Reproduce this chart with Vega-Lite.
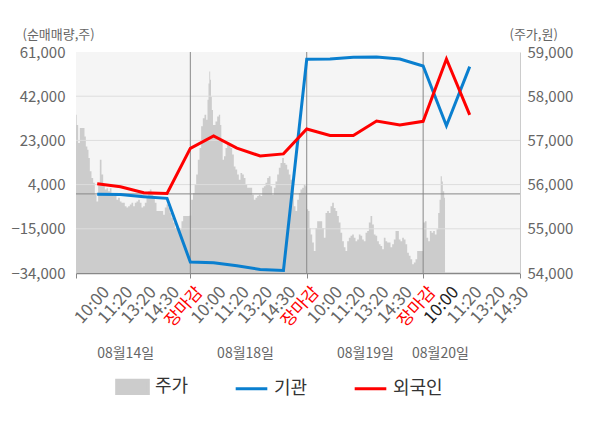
{
  "$schema": "https://vega.github.io/schema/vega-lite/v6.json",
  "width": 444,
  "height": 221,
  "autosize": {"type": "none"},
  "padding": {"left": 76, "top": 52, "right": 80, "bottom": 155},
  "background": "white",
  "config": {
    "font": "Noto Sans CJK KR",
    "view": {"fill": "#f5f5f5", "stroke": null},
    "axis": {"labelFont": "Noto Sans CJK KR", "titleFont": "Noto Sans CJK KR"},
    "legend": {"labelFont": "Noto Sans CJK KR"}
  },
  "datasets": {
    "price": [
      {"t": -0.91, "price": 57580}, {"t": -0.853, "price": 57350}, {"t": -0.782, "price": 56940}, {"t": -0.71, "price": 57280},
      {"t": -0.639, "price": 57280}, {"t": -0.567, "price": 57280}, {"t": -0.524, "price": 57090}, {"t": -0.453, "price": 56860},
      {"t": -0.395, "price": 56790}, {"t": -0.352, "price": 56600}, {"t": -0.281, "price": 56300}, {"t": -0.209, "price": 56150},
      {"t": -0.137, "price": 56040}, {"t": -0.066, "price": 55770}, {"t": 0.006, "price": 55620}, {"t": 0.077, "price": 56040},
      {"t": 0.149, "price": 56560}, {"t": 0.221, "price": 56230}, {"t": 0.292, "price": 56000}, {"t": 0.364, "price": 55890},
      {"t": 0.435, "price": 55920}, {"t": 0.507, "price": 55850}, {"t": 0.578, "price": 55920}, {"t": 0.65, "price": 55810},
      {"t": 0.722, "price": 55740}, {"t": 0.793, "price": 55770}, {"t": 0.865, "price": 55660}, {"t": 0.936, "price": 55700},
      {"t": 1.008, "price": 55620}, {"t": 1.08, "price": 55590}, {"t": 1.151, "price": 55590}, {"t": 1.223, "price": 55510},
      {"t": 1.294, "price": 55480}, {"t": 1.366, "price": 55510}, {"t": 1.438, "price": 55550}, {"t": 1.509, "price": 55590},
      {"t": 1.581, "price": 55510}, {"t": 1.652, "price": 55590}, {"t": 1.724, "price": 55620}, {"t": 1.796, "price": 55660},
      {"t": 1.867, "price": 55590}, {"t": 1.939, "price": 55480}, {"t": 2.01, "price": 55510}, {"t": 2.082, "price": 55590},
      {"t": 2.154, "price": 55700}, {"t": 2.225, "price": 55850}, {"t": 2.297, "price": 55890}, {"t": 2.368, "price": 55770},
      {"t": 2.44, "price": 55700}, {"t": 2.512, "price": 55590}, {"t": 2.583, "price": 55400}, {"t": 2.655, "price": 55400},
      {"t": 2.726, "price": 55400}, {"t": 2.798, "price": 55400}, {"t": 2.869, "price": 55320}, {"t": 2.941, "price": 55480},
      {"t": 3.013, "price": 55550}, {"t": 3.084, "price": 55480}, {"t": 3.156, "price": 55360}, {"t": 3.227, "price": 55250},
      {"t": 3.299, "price": 55140}, {"t": 3.371, "price": 55020}, {"t": 3.442, "price": 55100}, {"t": 3.514, "price": 55020},
      {"t": 3.585, "price": 54990}, {"t": 3.657, "price": 55170}, {"t": 3.728, "price": 55290}, {"t": 3.8, "price": 55290},
      {"t": 3.872, "price": 55290}, {"t": 3.943, "price": 55290}, {"t": 4.0, "price": 55300},
      {"t": 4.072, "price": 55660}, {"t": 4.158, "price": 55810}, {"t": 4.215, "price": 56000}, {"t": 4.287, "price": 56230},
      {"t": 4.358, "price": 56560}, {"t": 4.43, "price": 56830}, {"t": 4.501, "price": 57320}, {"t": 4.573, "price": 57500},
      {"t": 4.645, "price": 57580}, {"t": 4.716, "price": 57470}, {"t": 4.759, "price": 57920}, {"t": 4.802, "price": 58290},
      {"t": 4.831, "price": 58560}, {"t": 4.874, "price": 58370}, {"t": 4.902, "price": 57990}, {"t": 4.945, "price": 57690},
      {"t": 5.003, "price": 57350}, {"t": 5.045, "price": 57350}, {"t": 5.117, "price": 57430}, {"t": 5.189, "price": 57540},
      {"t": 5.26, "price": 57580}, {"t": 5.303, "price": 57350}, {"t": 5.36, "price": 57010}, {"t": 5.418, "price": 56560},
      {"t": 5.475, "price": 56640}, {"t": 5.547, "price": 56830}, {"t": 5.618, "price": 56940}, {"t": 5.69, "price": 56900},
      {"t": 5.761, "price": 56830}, {"t": 5.833, "price": 56680}, {"t": 5.905, "price": 56410}, {"t": 5.976, "price": 56340},
      {"t": 6.048, "price": 56230}, {"t": 6.119, "price": 56110}, {"t": 6.191, "price": 56260}, {"t": 6.263, "price": 56230},
      {"t": 6.334, "price": 56150}, {"t": 6.406, "price": 56000}, {"t": 6.477, "price": 55930}, {"t": 6.549, "price": 55930},
      {"t": 6.62, "price": 55930}, {"t": 6.692, "price": 55770}, {"t": 6.764, "price": 55660}, {"t": 6.835, "price": 55700},
      {"t": 6.907, "price": 55740}, {"t": 6.978, "price": 55770}, {"t": 7.05, "price": 55740}, {"t": 7.122, "price": 55930},
      {"t": 7.193, "price": 55960}, {"t": 7.265, "price": 56040}, {"t": 7.336, "price": 56150}, {"t": 7.408, "price": 56190},
      {"t": 7.48, "price": 55960}, {"t": 7.551, "price": 55770}, {"t": 7.623, "price": 55930}, {"t": 7.694, "price": 56070},
      {"t": 7.766, "price": 56230}, {"t": 7.838, "price": 56380}, {"t": 7.909, "price": 56490}, {"t": 7.981, "price": 56600},
      {"t": 8.052, "price": 56490}, {"t": 8.124, "price": 56450}, {"t": 8.196, "price": 56340}, {"t": 8.267, "price": 56230},
      {"t": 8.339, "price": 56110}, {"t": 8.41, "price": 55900}, {"t": 8.482, "price": 55510}, {"t": 8.553, "price": 55400},
      {"t": 8.625, "price": 55660}, {"t": 8.697, "price": 55810}, {"t": 8.768, "price": 55890}, {"t": 8.84, "price": 55930},
      {"t": 8.911, "price": 56000}, {"t": 8.983, "price": 55960},
      {"t": 9.026, "price": 55440}, {"t": 9.098, "price": 55400}, {"t": 9.141, "price": 55020}, {"t": 9.198, "price": 54870},
      {"t": 9.27, "price": 54690}, {"t": 9.341, "price": 54500}, {"t": 9.413, "price": 55020}, {"t": 9.484, "price": 55170},
      {"t": 9.556, "price": 55170}, {"t": 9.628, "price": 55170}, {"t": 9.699, "price": 55020}, {"t": 9.771, "price": 54800},
      {"t": 9.842, "price": 55360}, {"t": 9.914, "price": 55400}, {"t": 9.986, "price": 55360}, {"t": 10.057, "price": 55510},
      {"t": 10.129, "price": 55590}, {"t": 10.2, "price": 55470}, {"t": 10.272, "price": 55400}, {"t": 10.343, "price": 55290},
      {"t": 10.415, "price": 55140}, {"t": 10.487, "price": 54910}, {"t": 10.558, "price": 54720}, {"t": 10.63, "price": 54580},
      {"t": 10.701, "price": 54500}, {"t": 10.773, "price": 54720}, {"t": 10.845, "price": 54800}, {"t": 10.916, "price": 54840},
      {"t": 10.988, "price": 54870}, {"t": 11.059, "price": 54800}, {"t": 11.131, "price": 54720}, {"t": 11.203, "price": 54760},
      {"t": 11.274, "price": 54870}, {"t": 11.346, "price": 54840}, {"t": 11.417, "price": 54760}, {"t": 11.489, "price": 54720},
      {"t": 11.561, "price": 54910}, {"t": 11.632, "price": 54950}, {"t": 11.704, "price": 55140}, {"t": 11.775, "price": 55290},
      {"t": 11.847, "price": 55100}, {"t": 11.919, "price": 54870}, {"t": 11.99, "price": 54840}, {"t": 12.062, "price": 54720},
      {"t": 12.133, "price": 54650}, {"t": 12.205, "price": 54610}, {"t": 12.276, "price": 54540}, {"t": 12.348, "price": 54800},
      {"t": 12.42, "price": 54720}, {"t": 12.491, "price": 54690}, {"t": 12.563, "price": 54690}, {"t": 12.634, "price": 54580},
      {"t": 12.706, "price": 54650}, {"t": 12.778, "price": 54760}, {"t": 12.849, "price": 54950}, {"t": 12.921, "price": 54950},
      {"t": 12.992, "price": 54760}, {"t": 13.064, "price": 54720}, {"t": 13.136, "price": 54800}, {"t": 13.207, "price": 54760},
      {"t": 13.279, "price": 54650}, {"t": 13.35, "price": 54460}, {"t": 13.422, "price": 54390}, {"t": 13.494, "price": 54310},
      {"t": 13.565, "price": 54200}, {"t": 13.637, "price": 54240}, {"t": 13.708, "price": 54310}, {"t": 13.78, "price": 54500},
      {"t": 13.852, "price": 54500}, {"t": 13.923, "price": 54500}, {"t": 13.966, "price": 54500},
      {"t": 14.038, "price": 55140}, {"t": 14.109, "price": 55170}, {"t": 14.181, "price": 54800}, {"t": 14.253, "price": 54720},
      {"t": 14.324, "price": 54950}, {"t": 14.396, "price": 54910}, {"t": 14.467, "price": 54950}, {"t": 14.539, "price": 54870},
      {"t": 14.61, "price": 54990}, {"t": 14.682, "price": 55360}, {"t": 14.725, "price": 55660}, {"t": 14.782, "price": 56190},
      {"t": 14.825, "price": 56070}, {"t": 14.868, "price": 55850}, {"t": 14.94, "price": 55700}
    ],
    "flow": [
      {"t": 0, "series": "기관", "value": -200}, {"t": 1, "series": "기관", "value": -300},
      {"t": 2, "series": "기관", "value": -1200}, {"t": 3, "series": "기관", "value": -1900},
      {"t": 4, "series": "기관", "value": -29300}, {"t": 5, "series": "기관", "value": -29600},
      {"t": 6, "series": "기관", "value": -30900}, {"t": 7, "series": "기관", "value": -32500},
      {"t": 8, "series": "기관", "value": -32900}, {"t": 9, "series": "기관", "value": 57900},
      {"t": 10, "series": "기관", "value": 58000}, {"t": 11, "series": "기관", "value": 58700},
      {"t": 12, "series": "기관", "value": 58900}, {"t": 13, "series": "기관", "value": 58000},
      {"t": 14, "series": "기관", "value": 55000}, {"t": 15, "series": "기관", "value": 29300},
      {"t": 16, "series": "기관", "value": 54700},
      {"t": 0, "series": "외국인", "value": 4400}, {"t": 1, "series": "외국인", "value": 3100},
      {"t": 2, "series": "외국인", "value": 500}, {"t": 3, "series": "외국인", "value": 200},
      {"t": 4, "series": "외국인", "value": 19600}, {"t": 5, "series": "외국인", "value": 24900},
      {"t": 6, "series": "외국인", "value": 19700}, {"t": 7, "series": "외국인", "value": 16300},
      {"t": 8, "series": "외국인", "value": 17200}, {"t": 9, "series": "외국인", "value": 27900},
      {"t": 10, "series": "외국인", "value": 25100}, {"t": 11, "series": "외국인", "value": 25100},
      {"t": 12, "series": "외국인", "value": 31300}, {"t": 13, "series": "외국인", "value": 29600},
      {"t": 14, "series": "외국인", "value": 31200}, {"t": 15, "series": "외국인", "value": 58000},
      {"t": 16, "series": "외국인", "value": 34000}
    ]
  },
  "layer": [
    {
      "data": {"name": "price"},
      "mark": {"type": "area", "color": "#cccccc", "interpolate": "step", "clip": true},
      "encoding": {
        "x": {
          "field": "t", "type": "quantitative",
          "scale": {"domain": [-0.91, 18.16], "nice": false},
          "axis": {
            "orient": "bottom", "title": null, "grid": false,
            "values": [0, 1, 2, 3, 4, 5, 6, 7, 8, 9, 10, 11, 12, 13, 14, 15, 16, 17, 18],
            "labelExpr": "['10:00','11:20','13:20','14:30','장마감'][datum.value % 5]",
            "labelAngle": -48, "labelFontSize": 17, "labelPadding": 16, "labelOffset": 9,
            "labelAlign": "right", "labelBaseline": "middle",
            "labelOverlap": false, "labelBound": false,
            "labelColor": {
              "condition": [
                {"test": "datum.value % 5 === 4", "value": "#ff0000"},
                {"test": "datum.value === 15", "value": "#222222"}
              ],
              "value": "#666666"
            },
            "ticks": false, "tickSize": 0,
            "domain": true, "domainColor": "#888888", "domainWidth": 1.5
          }
        },
        "y": {
          "field": "price", "type": "quantitative",
          "scale": {"domain": [54000, 59000], "zero": false, "nice": false},
          "axis": {
            "orient": "right", "grid": false,
            "values": [54000, 55000, 56000, 57000, 58000, 59000],
            "format": ",d", "labelFontSize": 15, "labelColor": "#666666", "labelPadding": 7,
            "ticks": false, "tickSize": 0, "domainColor": "#cccccc",
            "title": "(주가,원)", "titleAngle": 0, "titleX": -11, "titleY": -14,
            "titleAlign": "left", "titleBaseline": "alphabetic",
            "titleFontSize": 13, "titleFontWeight": "normal", "titleColor": "#666666"
          }
        },
        "y2": {"datum": 54000},
        "color": {
          "datum": "주가", "type": "nominal",
          "scale": {"domain": ["주가", "기관", "외국인"], "range": ["#cccccc", "#0a7fcf", "#ff0000"]}
        }
      }
    },
    {
      "layer": [
        {
          "data": {"values": [{"v": 42000}, {"v": 23000}, {"v": 4000}, {"v": -15000}]},
          "mark": {"type": "rule", "color": "#dddddd", "strokeWidth": 1},
          "encoding": {
            "y": {"field": "v", "type": "quantitative", "scale": {"domain": [-34000, 61000], "nice": false}, "axis": null}
          }
        },
        {
          "data": {"values": [{"v": 0}]},
          "mark": {"type": "rule", "color": "#888888", "strokeWidth": 1},
          "encoding": {
            "y": {"field": "v", "type": "quantitative", "scale": {"domain": [-34000, 61000], "nice": false}, "axis": null}
          }
        },
        {
          "data": {"values": [{"t": 4}, {"t": 9}, {"t": 14}]},
          "mark": {"type": "rule", "color": "#888888", "strokeWidth": 1},
          "encoding": {
            "x": {
              "field": "t", "type": "quantitative",
              "scale": {"domain": [-0.91, 18.16], "nice": false},
              "axis": {
                "orient": "bottom", "title": null, "grid": false, "labels": false,
                "values": [-0.91, 4, 9, 14, 18.16],
                "ticks": true, "tickSize": 5, "tickColor": "#888888", "domain": false
              }
            }
          }
        }
      ]
    },
    {
      "data": {"name": "flow"},
      "mark": {"type": "line", "strokeWidth": 3},
      "encoding": {
        "x": {
          "field": "t", "type": "quantitative",
          "scale": {"domain": [-0.91, 18.16], "nice": false},
          "axis": {
            "orient": "bottom", "title": null, "grid": false,
            "values": [1.2, 6.35, 11.5, 14.72],
            "labelExpr": "datum.value < 4 ? '08월14일' : datum.value < 9 ? '08월18일' : datum.value < 14 ? '08월19일' : '08월20일'",
            "labelAngle": 0, "labelFontSize": 14, "labelColor": "#666666",
            "labelPadding": 73, "labelOverlap": false, "labelBound": false,
            "ticks": false, "tickSize": 0, "domain": false
          }
        },
        "y": {
          "field": "value", "type": "quantitative",
          "scale": {"domain": [-34000, 61000], "nice": false},
          "axis": {
            "orient": "left", "grid": false,
            "values": [-34000, -15000, 4000, 23000, 42000, 61000],
            "format": ",d", "labelFontSize": 15, "labelColor": "#666666", "labelPadding": 11,
            "ticks": false, "tickSize": 0, "domain": false,
            "title": "(순매매량,주)", "titleAngle": 0, "titleX": -54, "titleY": -14,
            "titleAlign": "left", "titleBaseline": "alphabetic",
            "titleFontSize": 13, "titleFontWeight": "normal", "titleColor": "#666666"
          }
        },
        "color": {
          "field": "series", "type": "nominal",
          "scale": {"domain": ["주가", "기관", "외국인"], "range": ["#cccccc", "#0a7fcf", "#ff0000"]},
          "legend": {
            "orient": "none", "legendX": 39, "legendY": 317,
            "direction": "horizontal", "title": null,
            "labelFontSize": 18, "labelColor": "#333333", "labelOffset": 5,
            "symbolSize": 1000, "columnPadding": 40, "symbolStrokeWidth": 3,
            "encode": {
              "symbols": {
                "update": {
                  "shape": {"signal": "datum.value === '주가' ? 'M-1,-0.42H1V0.42H-1Z' : 'stroke'"},
                  "fill": {"signal": "datum.value === '주가' ? '#cccccc' : 'transparent'"},
                  "stroke": {"signal": "datum.value === '주가' ? 'transparent' : datum.value === '기관' ? '#0a7fcf' : '#ff0000'"},
                  "strokeWidth": {"value": 3},
                  "opacity": {"value": 1}
                }
              }
            }
          }
        }
      }
    }
  ],
  "resolve": {
    "scale": {"y": "independent"},
    "axis": {"x": "independent", "y": "independent"}
  }
}
